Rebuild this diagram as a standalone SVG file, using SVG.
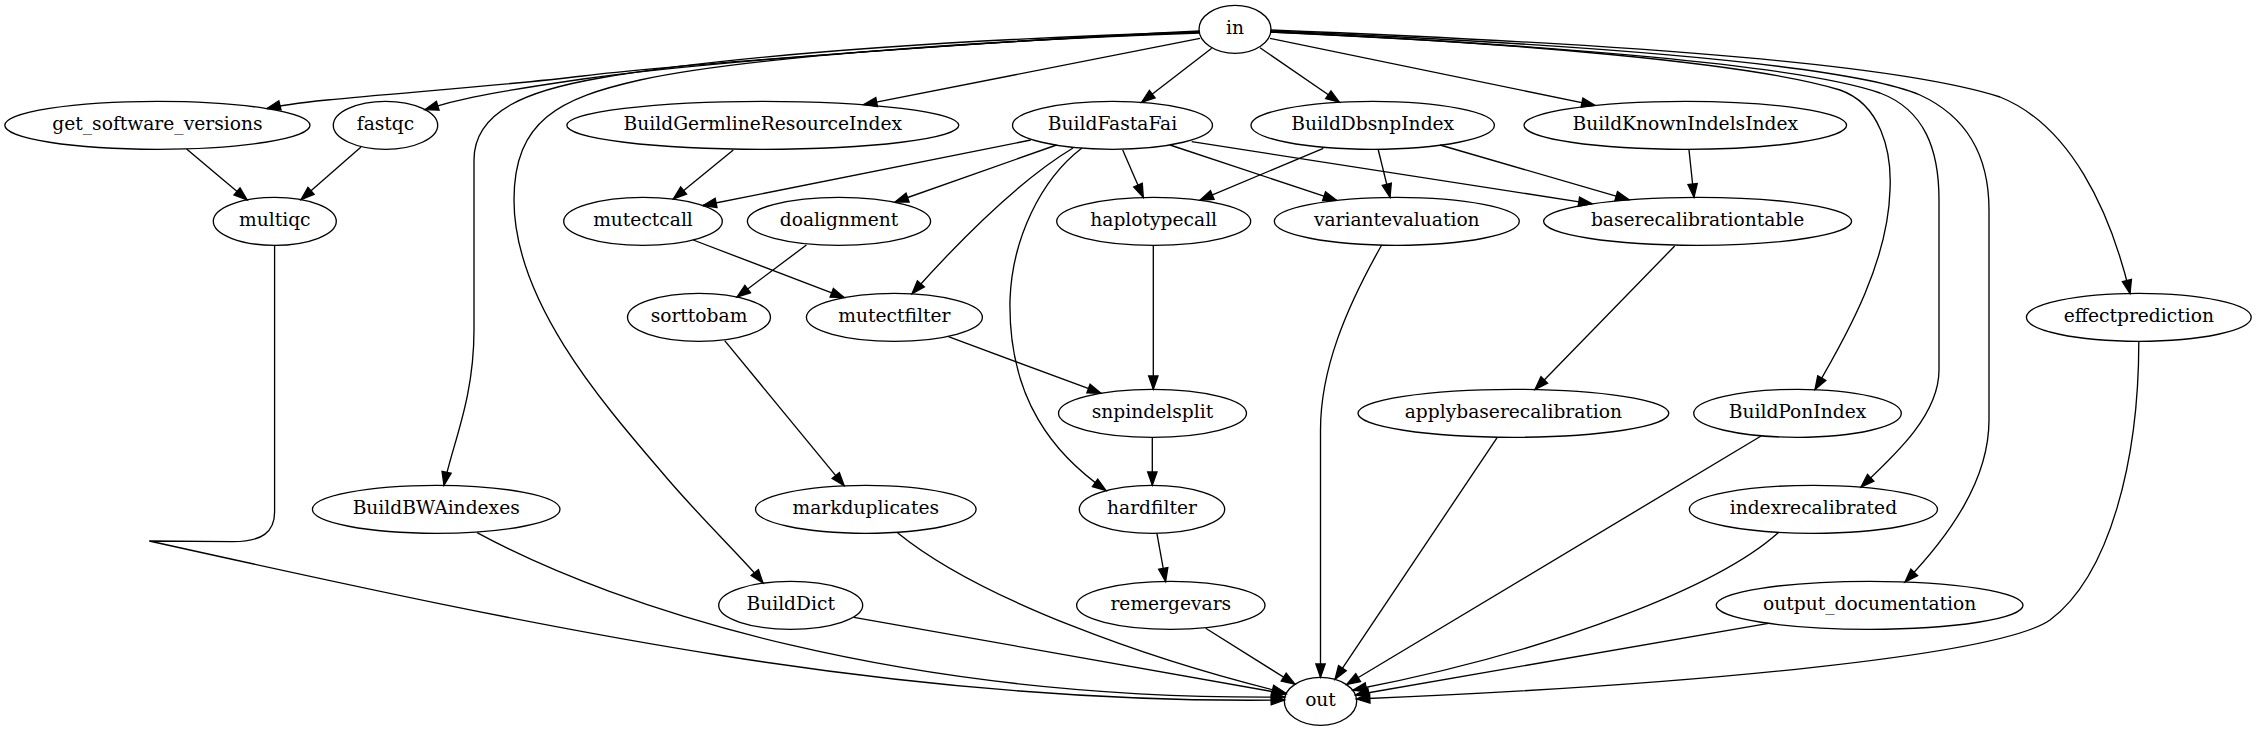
<svg xmlns="http://www.w3.org/2000/svg" width="2256" height="731" viewBox="0 0 2256 731">
<style>
.node ellipse{fill:none;stroke:#000;stroke-width:1.33}
.node text{font-family:"DejaVu Serif","Liberation Serif",serif;font-size:18.67px;text-anchor:middle;fill:#000}
#edges path{fill:none;stroke:#000;stroke-width:1.33;marker-end:url(#arrow)}
</style>
<defs>
<marker id="arrow" markerUnits="userSpaceOnUse" markerWidth="16" markerHeight="12" refX="13.33" refY="4.67" orient="auto" overflow="visible">
<path d="M0,0 L13.33,4.67 L0,9.33 Z" fill="#000" stroke="#000" stroke-width="1.33"/>
</marker>
</defs>
<rect width="2256" height="731" fill="#fff"/>
<g id="edges">
<path d="M1199.5,31 C1050,38 700,62 583,76 C466,90 310,98 267,108.5"/>
<path d="M1199.5,32 C1000,40 700,62 583,79 C466,96 450,102 425,109.6"/>
<path d="M1200,38.3 L863.6,104.7"/>
<path d="M1211.7,48.3 L1141.7,102.3"/>
<path d="M1260,47.7 L1339.3,102.2"/>
<path d="M1270,38.3 L1595,105.4"/>
<path d="M1199.5,32 C1000,38 750,52 600,78 C530,90 474,110 474,160 L474,330 C474,400 452,445 444,485.3"/>
<path d="M1199.5,33 C1000,40 750,56 640,80 C560,98 514,120 514,200 C514,300 600,400 660,470 C700,518 745,560 763,583"/>
<path d="M1270.5,32 C1500,42 1750,62 1840,90 C1880,104 1892,150 1890,190 C1888,260 1850,330 1815,389.6"/>
<path d="M1270.5,32 C1550,45 1800,65 1880,93 C1925,110 1939,150 1939,200 L1939,370 C1939,415 1895,455 1861,487"/>
<path d="M1270.5,31 C1600,45 1850,65 1920,95 C1970,118 1989,160 1989,210 L1989,420 C1989,480 1950,535 1905,582"/>
<path d="M1270.5,30 C1650,45 1900,65 2000,97 C2070,125 2110,210 2130,293.5"/>
<path d="M186.6,149 L247.2,200"/>
<path d="M361,147 L301,199.6"/>
<path d="M733.3,150 L673.3,199"/>
<path d="M1030.8,140 L703,205.5"/>
<path d="M1056.5,145 L895,202"/>
<path d="M1073,148 C1020,180 960,240 912,293.8"/>
<path d="M1082,148 C1040,180 1012,240 1010,300 C1008,400 1055,455 1106,490.5"/>
<path d="M1122.7,150 L1143.3,197.4"/>
<path d="M1170,145 L1336.7,200.4"/>
<path d="M1191.7,141.7 L1592,203.8"/>
<path d="M1323.3,148.3 L1200,200.2"/>
<path d="M1378.3,150 L1390,197.3"/>
<path d="M1440,145 L1629,199.8"/>
<path d="M1689,150 L1694,197.3"/>
<path d="M693.2,240 L844.2,297.6"/>
<path d="M806.4,245 L737,297"/>
<path d="M724.7,340.7 L844.2,485.8"/>
<path d="M948.4,336.7 L1101,393.2"/>
<path d="M1153.3,245.3 L1153.3,389.3"/>
<path d="M1152.3,437.3 L1152.3,485.3"/>
<path d="M1156.9,533.3 L1165.6,581.5"/>
<path d="M1674.7,246 L1535,389.5"/>
<path d="M274.6,245.3 L274.6,512 C274.6,532 262,541.7 233,541.7 L149.3,541 C550,630 900,705 1284.5,700"/>
<path d="M477,532.7 C620,610 900,700 1284.8,697"/>
<path d="M853.9,617.3 L1286,694"/>
<path d="M897.5,532.7 C980,600 1150,660 1285.5,693"/>
<path d="M1205.7,628.3 L1295,684.3"/>
<path d="M1381.7,245 C1345,310 1320.5,370 1320.5,430 L1320.5,677.3"/>
<path d="M1497.3,437.3 L1335,679.3"/>
<path d="M1761.1,436 L1346.7,684.5"/>
<path d="M1778.2,532.7 C1720,585 1560,650 1353,690"/>
<path d="M1768.5,623.3 L1355.5,695"/>
<path d="M2138.8,341.7 C2138.8,460 2110,575 2050,620 C2000,655 1700,685 1356.5,699"/>
</g>
<g id="in" class="node"><ellipse cx="1235" cy="29.3" rx="36" ry="24"/><text x="1235" y="34.3">in</text></g>
<g id="get_software_versions" class="node"><ellipse cx="157.4" cy="125.3" rx="152.6" ry="24"/><text x="157.4" y="130.3">get_software_versions</text></g>
<g id="fastqc" class="node"><ellipse cx="385.5" cy="125.3" rx="52.2" ry="24"/><text x="385.5" y="130.3">fastqc</text></g>
<g id="BuildGermlineResourceIndex" class="node"><ellipse cx="762.8" cy="125.3" rx="196" ry="24"/><text x="762.8" y="130.3">BuildGermlineResourceIndex</text></g>
<g id="BuildFastaFai" class="node"><ellipse cx="1112.5" cy="125.3" rx="100" ry="24"/><text x="1112.5" y="130.3">BuildFastaFai</text></g>
<g id="BuildDbsnpIndex" class="node"><ellipse cx="1372.7" cy="125.3" rx="121.7" ry="24"/><text x="1372.7" y="130.3">BuildDbsnpIndex</text></g>
<g id="BuildKnownIndelsIndex" class="node"><ellipse cx="1685.3" cy="125.3" rx="161.3" ry="24"/><text x="1685.3" y="130.3">BuildKnownIndelsIndex</text></g>
<g id="multiqc" class="node"><ellipse cx="274.8" cy="221.3" rx="61.5" ry="24"/><text x="274.8" y="226.3">multiqc</text></g>
<g id="mutectcall" class="node"><ellipse cx="643" cy="221.3" rx="79.3" ry="24"/><text x="643" y="226.3">mutectcall</text></g>
<g id="doalignment" class="node"><ellipse cx="839" cy="221.3" rx="91.6" ry="24"/><text x="839" y="226.3">doalignment</text></g>
<g id="haplotypecall" class="node"><ellipse cx="1153.7" cy="221.3" rx="97" ry="24"/><text x="1153.7" y="226.3">haplotypecall</text></g>
<g id="variantevaluation" class="node"><ellipse cx="1396.8" cy="221.3" rx="122.5" ry="24"/><text x="1396.8" y="226.3">variantevaluation</text></g>
<g id="baserecalibrationtable" class="node"><ellipse cx="1697.6" cy="221.3" rx="154" ry="24"/><text x="1697.6" y="226.3">baserecalibrationtable</text></g>
<g id="sorttobam" class="node"><ellipse cx="699" cy="317.3" rx="71.5" ry="24"/><text x="699" y="322.3">sorttobam</text></g>
<g id="mutectfilter" class="node"><ellipse cx="894.4" cy="317.3" rx="88" ry="24"/><text x="894.4" y="322.3">mutectfilter</text></g>
<g id="effectprediction" class="node"><ellipse cx="2138.8" cy="317.3" rx="112.4" ry="24"/><text x="2138.8" y="322.3">effectprediction</text></g>
<g id="snpindelsplit" class="node"><ellipse cx="1152.5" cy="413.3" rx="94" ry="24"/><text x="1152.5" y="418.3">snpindelsplit</text></g>
<g id="applybaserecalibration" class="node"><ellipse cx="1513.4" cy="413.3" rx="155.4" ry="24"/><text x="1513.4" y="418.3">applybaserecalibration</text></g>
<g id="BuildPonIndex" class="node"><ellipse cx="1797.5" cy="413.3" rx="103.8" ry="24"/><text x="1797.5" y="418.3">BuildPonIndex</text></g>
<g id="BuildBWAindexes" class="node"><ellipse cx="436.2" cy="509.3" rx="123.8" ry="24"/><text x="436.2" y="514.3">BuildBWAindexes</text></g>
<g id="markduplicates" class="node"><ellipse cx="865.8" cy="509.3" rx="110.3" ry="24"/><text x="865.8" y="514.3">markduplicates</text></g>
<g id="hardfilter" class="node"><ellipse cx="1152" cy="509.3" rx="72.7" ry="24"/><text x="1152" y="514.3">hardfilter</text></g>
<g id="indexrecalibrated" class="node"><ellipse cx="1813.4" cy="509.3" rx="124.1" ry="24"/><text x="1813.4" y="514.3">indexrecalibrated</text></g>
<g id="BuildDict" class="node"><ellipse cx="790.7" cy="605.3" rx="72" ry="24"/><text x="790.7" y="610.3">BuildDict</text></g>
<g id="remergevars" class="node"><ellipse cx="1170.8" cy="605.3" rx="94.2" ry="24"/><text x="1170.8" y="610.3">remergevars</text></g>
<g id="output_documentation" class="node"><ellipse cx="1869.6" cy="605.3" rx="153.4" ry="24"/><text x="1869.6" y="610.3">output_documentation</text></g>
<g id="out" class="node"><ellipse cx="1320.5" cy="701.3" rx="36.2" ry="24"/><text x="1320.5" y="706.3">out</text></g>
</svg>
